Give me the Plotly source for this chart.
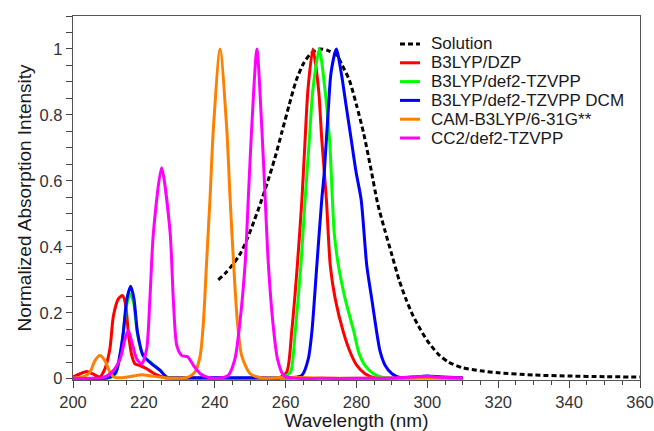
import plotly.graph_objects as go

# Experimental spectrum in solution
sol_wl = [241, 243, 245, 247, 249, 251, 253, 255, 257, 259, 261, 263, 265, 267, 269.5,
          272, 274.5, 276, 278, 280, 282, 284, 286, 288, 290, 292, 294, 296, 298, 300,
          303, 306, 310, 315, 320, 330, 340, 350, 360]
sol_int = [0.30, 0.32, 0.345, 0.375, 0.42, 0.475, 0.535, 0.60, 0.67, 0.75, 0.83, 0.905,
           0.955, 0.985, 1.0, 0.995, 0.98, 0.95, 0.905, 0.83, 0.745, 0.64, 0.53, 0.45,
           0.375, 0.30, 0.24, 0.19, 0.15, 0.115, 0.075, 0.05, 0.033, 0.024, 0.018,
           0.011, 0.008, 0.006, 0.005]

# B3LYP/DZP
dzp_wl = [200, 202, 203.9, 205.5, 207.5, 209, 210.4, 211.4, 212.8, 214, 214.9, 215.6,
          216.6, 217.5, 218.9, 220.8, 222.5, 224, 226, 230, 240, 250, 258, 260.3, 261.7,
          263.3, 264.6, 265.5, 266.3, 267.7, 269.3, 270.2, 271.5, 272.6, 274, 276.3,
          278.2, 280.1, 282.4, 285, 290, 296, 300, 304, 310]
dzp_int = [0.005, 0.015, 0.022, 0.015, 0.005, 0.03, 0.09, 0.19, 0.242, 0.252, 0.222,
           0.141, 0.07, 0.045, 0.04, 0.03, 0.018, 0.01, 0.003, 0.002, 0.001, 0.001,
           0.002, 0.02, 0.141, 0.343, 0.544, 0.726, 0.877, 1.0, 0.877, 0.726, 0.544,
           0.343, 0.242, 0.141, 0.081, 0.04, 0.015, 0.003, 0.001, 0.003, 0.005, 0.003,
           0.002]

# B3LYP/def2-TZVPP
tz_wl = [200, 210, 212, 213.5, 214.5, 215.4, 216.3, 217.2, 218.2, 219.8, 222.2, 224.6,
         226.5, 230, 250, 258, 260, 261.4, 262.7, 264.3, 265.5, 266.7, 267.7, 269.5,
         271.1, 272.4, 273.2, 273.7, 274.9, 276.8, 279.3, 280.6, 282.4, 284.8, 287.5,
         292, 296, 300, 304, 310]
tz_int = [0.001, 0.002, 0.015, 0.08, 0.17, 0.235, 0.257, 0.225, 0.135, 0.07, 0.047,
          0.025, 0.005, 0.002, 0.001, 0.002, 0.008, 0.02, 0.141, 0.343, 0.544, 0.726,
          0.877, 1.0, 0.877, 0.726, 0.544, 0.444, 0.343, 0.242, 0.141, 0.081, 0.04,
          0.015, 0.004, 0.002, 0.004, 0.006, 0.004, 0.002]

# B3LYP/def2-TZVPP with DCM solvent model
dcm_wl = [200, 210, 212.1, 213.2, 214.2, 215.2, 216.3, 217.2, 218.2, 219.8, 222.2, 224.6,
          226.4, 230, 250, 262, 264.6, 266.4, 267.4, 268.8, 270.2, 270.9, 272.1, 272.8,
          274.3, 275.7, 277.1, 278.5, 279.9, 281.3, 282.9, 284.3, 285.7, 286.7, 288.1,
          290, 292.5, 296, 300, 304, 310]
dcm_int = [0.001, 0.003, 0.02, 0.07, 0.141, 0.242, 0.28, 0.242, 0.141, 0.07, 0.045,
           0.025, 0.005, 0.003, 0.003, 0.003, 0.01, 0.06, 0.141, 0.343, 0.544, 0.625,
           0.826, 0.927, 1.0, 0.927, 0.826, 0.726, 0.625, 0.544, 0.343, 0.242, 0.141,
           0.081, 0.04, 0.015, 0.003, 0.005, 0.008, 0.005, 0.003]

# CAM-B3LYP/6-31G**
cam_wl = [200, 203, 204.8, 206.2, 207.6, 209, 210.4, 211.5, 214, 217, 219.4, 222, 226,
          230, 232.5, 234.4, 235.9, 236.8, 237.7, 238.7, 239.6, 241.5, 243.4, 244.3,
          245.3, 246.4, 247.6, 250, 253, 260, 270, 280, 300, 310]
cam_int = [0.002, 0.006, 0.02, 0.055, 0.07, 0.055, 0.02, 0.005, 0.003, 0.008, 0.012,
           0.008, 0.003, 0.002, 0.005, 0.02, 0.07, 0.171, 0.353, 0.554, 0.756, 1.0,
           0.756, 0.554, 0.353, 0.171, 0.07, 0.015, 0.003, 0.004, 0.002, 0.001, 0.001,
           0.001]

# CC2/def2-TZVPP
cc2_wl = [200, 205, 208.5, 211, 213.3, 214.7, 215.6, 216.6, 218, 219.4, 220.8, 221.7,
          222.7, 225, 227.4, 228.3, 229.3, 230.7, 232.4, 234, 235.9, 238.5, 241, 243.8,
          245.7, 247.1, 248.6, 249.5, 250.4, 251.9, 253.3, 254.2, 255.1, 256.4, 257.7,
          259.4, 262, 270, 280, 290, 296, 300, 304, 310]
cc2_int = [0.001, 0.001, 0.003, 0.02, 0.06, 0.121, 0.146, 0.111, 0.06, 0.045, 0.091,
           0.242, 0.444, 0.64, 0.444, 0.242, 0.10, 0.07, 0.066, 0.04, 0.015, 0.003,
           0.001, 0.01, 0.06, 0.171, 0.353, 0.554, 0.756, 1.0, 0.756, 0.554, 0.353,
           0.171, 0.06, 0.01, 0.002, 0.001, 0.001, 0.002, 0.005, 0.007, 0.004, 0.002]

names = ["Solution", "B3LYP/DZP", "B3LYP/def2-TZVPP", "B3LYP/def2-TZVPP DCM",
         "CAM-B3LYP/6-31G**", "CC2/def2-TZVPP"]
colors = ["#000000", "#ff0000", "#00ff00", "#0000ff", "#ff8000", "#ff00ff"]
dashes = ["5px,3px", "solid", "solid", "solid", "solid", "solid"]
xs = [sol_wl, dzp_wl, tz_wl, dcm_wl, cam_wl, cc2_wl]
ys = [sol_int, dzp_int, tz_int, dcm_int, cam_int, cc2_int]

W, H = 654, 431
ML, MR, MT, MB = 73, 14, 16, 51
FONT = "Liberation Sans, Arial, sans-serif"

fig = go.Figure()
for name, c, d, x, y in zip(names, colors, dashes, xs, ys):
    fig.add_trace(go.Scatter(
        x=x, y=y, name=name, mode="lines",
        line=dict(color=c, width=3, dash=d, shape="spline", smoothing=0.7),
        showlegend=False,
    ))

# compact legend: short line sample + label per series
plot_w = W - ML - MR
plot_h = H - MT - MB
def px2paper(px, py):
    return (px - ML) / plot_w, (H - MB - py) / plot_h

for i, (name, c, d) in enumerate(zip(names, colors, dashes)):
    row_y = 44 + 18.8 * i
    x0, yy = px2paper(400, row_y)
    x1, _ = px2paper(420, row_y)
    xt, _ = px2paper(429, row_y)
    fig.add_shape(type="line", xref="paper", yref="paper", x0=x0, x1=x1, y0=yy, y1=yy,
                  line=dict(color=c, width=3, dash=d))
    fig.add_annotation(xref="paper", yref="paper", x=xt, y=yy, text=name,
                       showarrow=False, xanchor="left", yanchor="middle",
                       font=dict(family=FONT, size=17, color="#1a1a1a"))

axis_common = dict(showline=True, mirror=True, linecolor="#555", linewidth=1.3,
                   showgrid=False, zeroline=False, ticks="outside", tickcolor="#444",
                   automargin=False,
                   tickfont=dict(family=FONT, size=16.5, color="#333"))

fig.update_xaxes(range=[200, 360], dtick=20, tick0=200, ticklen=7,
                 minor=dict(dtick=5, ticks="outside", ticklen=4, tickcolor="#444"),
                 title=dict(text="Wavelength (nm)", font=dict(family=FONT, size=19, color="#1a1a1a"),
                            standoff=6),
                 **axis_common)
fig.update_yaxes(range=[-0.004, 1.1], dtick=0.2, tick0=0, ticklen=6,
                 minor=dict(dtick=0.05, ticks="outside", ticklen=6, tickcolor="#444"),
                 title=dict(text="Normalized Absorption Intensity",
                            font=dict(family=FONT, size=19, color="#1a1a1a"), standoff=2),
                 **axis_common)

fig.update_layout(width=W, height=H, margin=dict(l=ML, r=MR, t=MT, b=MB),
                  paper_bgcolor="white", plot_bgcolor="white",
                  font=dict(family=FONT))

fig.write_html("out.html")
